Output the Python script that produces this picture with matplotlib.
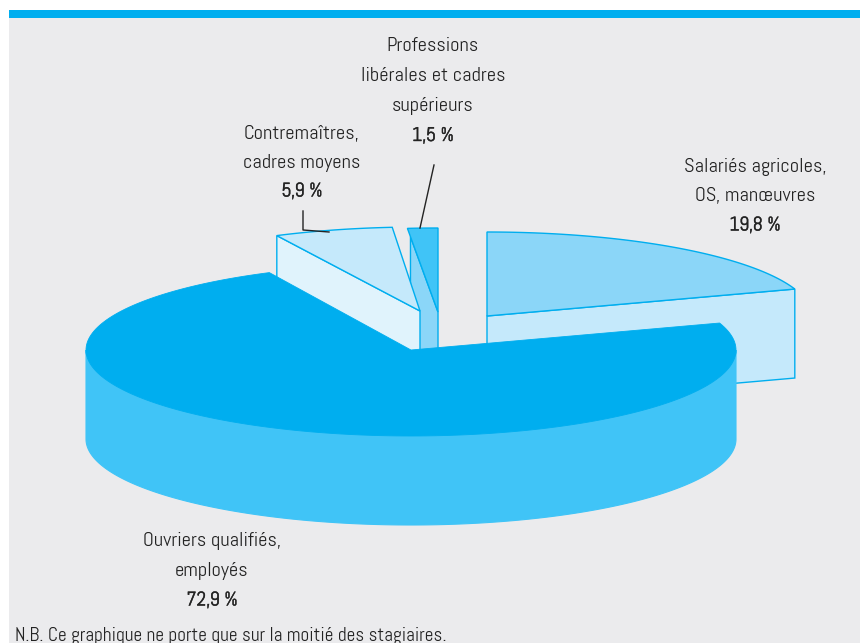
import numpy as np
import matplotlib
matplotlib.use("Agg")
import matplotlib.pyplot as plt
from matplotlib.patches import Polygon, Rectangle
import matplotlib.patheffects as pe

# Shares of trainees by occupation, in drawing order around the pie
categories = ["Salariés agricoles,\nOS, manœuvres",
              "Professions\nlibérales et cadres\nsupérieurs",
              "Contremaîtres,\ncadres moyens",
              "Ouvriers qualifiés,\nemployés"]
values = [19.8, 1.5, 5.9, 72.9]
value_labels = ["19,8 %", "1,5 %", "5,9 %", "72,9 %"]
note = "N.B. Ce graphique ne porte que sur la moitié des stagiaires."

STARTS = [18.72, 90.0, 94.9, 115.84]
RX, DEPTH = 325, 89
RADII_Y = [84, 84, 84, 86]
CENTERS = [(487, 316), (438, 312), (420, 311), (411, 350)]
TOPS = ["#8bd6f8", "#40c4f7", "#c5e9fb", "#00aeef"]
FACES = ["#c5e9fb", "#8bd6f8", "#e0f3fc", "#40c4f7"]
EDGE = "#00aeef"
BG = "#ebebed"
INK = "#232323"
LABEL_POS = [(755, 166.5, 29.5), (433, 46, 30), (302, 134.5, 28.5), (212, 541.5, 29.5)]

plt.rcParams["font.family"] = ["Abel", "Liberation Sans", "DejaVu Sans"]

fig = plt.figure(figsize=(8.6, 6.43), dpi=100, facecolor="white")
ax = fig.add_axes([0, 0, 1, 1])
ax.set_xlim(0, 860)
ax.set_ylim(643, 0)
ax.axis("off")

ax.add_patch(Rectangle((9, 18), 851, 625, fc=BG, ec="none", zorder=0))
ax.add_patch(Rectangle((9, 10), 851, 8, fc=EDGE, ec="none", zorder=1))


def rim_point(c, ry, t):
    t = np.radians(t)
    return np.array([c[0] + RX * np.cos(t), c[1] - ry * np.sin(t)])


def rim(c, ry, t0, t1):
    return np.array([rim_point(c, ry, t) for t in np.linspace(t0, t1, 200)])


sweeps = np.array(values) * 3.6

# Exploded slices: visible cut wall first, then the top face
for i, cut_at_end, inset in [(0, False, 0.0), (1, True, 0.1), (2, True, 0.0)]:
    c = np.array(CENTERS[i], float)
    t0, t1 = STARTS[i], STARTS[i] + sweeps[i]
    ry = RADII_Y[i]
    p = rim_point(c, ry, t1 if cut_at_end else t0)
    p = p + inset * (c - p)
    wall = [p, c, c + [0, DEPTH], p + [0, DEPTH]]
    ax.add_patch(Polygon(wall, fc=FACES[i], ec=EDGE, lw=1.0, zorder=2 + i))
    top = np.vstack([c, rim(c, ry, t0, t1)])
    ax.add_patch(Polygon(top, fc=TOPS[i], ec=EDGE, lw=1.0, zorder=2 + i))

# Large slice: extruded front wall, then the top face hiding the rest
c = np.array(CENTERS[3], float)
ry = RADII_Y[3]
front = rim(c, ry, 180, 360)
wall = np.vstack([front, (front + [0, DEPTH])[::-1]])
ax.add_patch(Polygon(wall, fc=FACES[3], ec=FACES[3], lw=0.8, zorder=6))
top = np.vstack([c, rim(c, ry, STARTS[3], STARTS[3] + sweeps[3])])
ax.add_patch(Polygon(top, fc=TOPS[3], ec=TOPS[3], lw=0.6, zorder=7))

# Leader lines
ax.plot([303, 303, 329], [211, 230, 232], color=INK, lw=1.0, zorder=8)
ax.plot([434, 420], [165, 228], color=INK, lw=1.0, zorder=8)

# Labels
LABEL_SIZE = 14.7
VALUE_SIZE = 14.2
for name, val, (x, y, step) in zip(categories, value_labels, LABEL_POS):
    lines = name.split("\n")
    for k, line in enumerate(lines):
        ax.text(x, y + k * step, line, ha="center", va="center", fontsize=LABEL_SIZE,
                color=INK, zorder=9)
    ax.text(x, y + len(lines) * step, val, ha="center", va="center", fontsize=VALUE_SIZE,
            color=INK, zorder=9,
            path_effects=[pe.withStroke(linewidth=0.3, foreground=INK)])

ax.text(15, 641, note, ha="left", va="baseline", fontsize=13.9, color=INK, zorder=9)

fig.savefig("out.png", dpi=100, facecolor="white")
